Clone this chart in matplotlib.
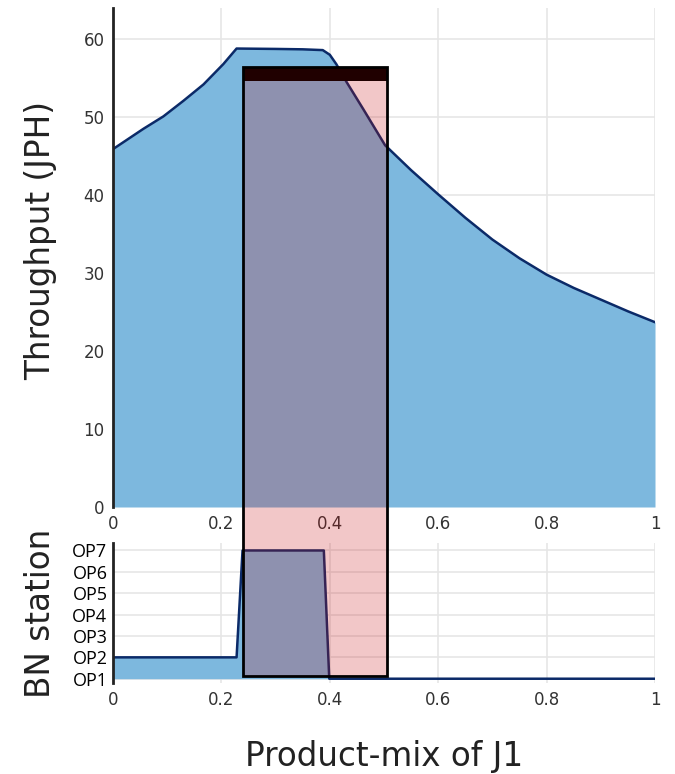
import numpy as np
import matplotlib.pyplot as plt
from matplotlib.patches import Rectangle

# throughput curve
mix = [0.0, 0.056, 0.093, 0.13, 0.167, 0.2035, 0.228, 0.3, 0.35, 0.387, 0.4, 0.412,
       0.431, 0.462, 0.502, 0.55, 0.6, 0.65, 0.7, 0.75, 0.8, 0.85, 0.9, 0.95, 1.0]
jph = [45.9, 48.5, 50.1, 52.1, 54.2, 56.8, 58.8, 58.75, 58.7, 58.6, 58.0, 56.8,
       54.5, 51.0, 46.4, 43.2, 40.1, 37.1, 34.3, 31.9, 29.8, 28.1, 26.6, 25.1, 23.7]

# bottleneck station
bn_mix = [0.0, 0.228, 0.239, 0.389, 0.399, 1.0]
bn_op = [2, 2, 7, 7, 1, 1]
op_labels = ['OP1', 'OP2', 'OP3', 'OP4', 'OP5', 'OP6', 'OP7']

# highlighted range
sel_x = [0.24, 0.506]
sel_top = 56.4
sel_bar = 54.6
sel_bottom = 1.15

line_c = '#0b2a68'
fill_c = '#7db8de'
grid_c = '#e6e6e6'

fig = plt.figure(figsize=(6.75, 7.74), dpi=100)
ax1 = fig.add_axes([113/675, 1-507/774, 542/675, 499/774])
ax2 = fig.add_axes([113/675, 1-683/774, 542/675, 140/774])

ax1.fill_between(mix, jph, 0, color=fill_c, lw=0)
ax1.plot(mix, jph, color=line_c, lw=1.8)
ax1.set_xlim(0, 1)
ax1.set_ylim(0, 64)
ax1.set_yticks(range(0, 61, 10))
ax1.set_xticks([0, 0.2, 0.4, 0.6, 0.8, 1])
ax1.set_xticklabels(['0', '0.2', '0.4', '0.6', '0.8', '1'])
ax1.set_ylabel('Throughput (JPH)', fontsize=23.5, family='DejaVu Sans', color='#222')
ax1.yaxis.set_label_coords(-0.103, 0.535)

ax2.fill_between(bn_mix, bn_op, 1, color=fill_c, lw=0)
ax2.plot(bn_mix, bn_op, color=line_c, lw=1.8)
ax2.set_xlim(0, 1)
ax2.set_ylim(0.8, 7.35)
ax2.set_yticks(range(1, 8))
ax2.set_yticklabels(op_labels, family='Open Sans', fontsize=13, color='black')
ax2.set_xticks([0, 0.2, 0.4, 0.6, 0.8, 1])
ax2.set_xticklabels(['0', '0.2', '0.4', '0.6', '0.8', '1'])
ax2.set_ylabel('BN station', fontsize=23.5, family='DejaVu Sans', color='#222')
ax2.yaxis.set_label_coords(-0.103, 0.5)
ax2.set_xlabel('Product-mix of J1', fontsize=23.5, family='DejaVu Sans', color='#222', labelpad=22)

for ax in (ax1, ax2):
    ax.set_axisbelow(True)
    ax.grid(True, color=grid_c, lw=1.2)
    for s in ('top', 'right', 'bottom'):
        ax.spines[s].set_visible(False)
    ax.spines['left'].set_linewidth(2)
    ax.spines['left'].set_color('#222')
    ax.tick_params(length=0, pad=6)
    ax.tick_params(axis='x', labelsize=12, labelcolor='#333')
ax1.tick_params(axis='y', labelsize=12, labelcolor='#333')
ax2.tick_params(axis='y', pad=4)

# rectangle spanning both panels
inv = fig.transFigure.inverted()
x0f, y1f = inv.transform(ax1.transData.transform((sel_x[0], sel_top)))
x1f, ybf = inv.transform(ax1.transData.transform((sel_x[1], sel_bar)))
_, y0f = inv.transform(ax2.transData.transform((sel_x[0], sel_bottom)))
fig.patches.append(Rectangle((x0f, y0f), x1f - x0f, y1f - y0f, transform=fig.transFigure,
                             facecolor=(200/255, 16/255, 20/255, 0.23), edgecolor='none', zorder=5))
fig.patches.append(Rectangle((x0f, ybf), x1f - x0f, y1f - ybf, transform=fig.transFigure,
                             facecolor='#200000', edgecolor='none', zorder=6))
fig.patches.append(Rectangle((x0f, y0f), x1f - x0f, y1f - y0f, transform=fig.transFigure,
                             facecolor='none', edgecolor='black', lw=2, zorder=7))

fig.savefig('out.png', dpi=100)
